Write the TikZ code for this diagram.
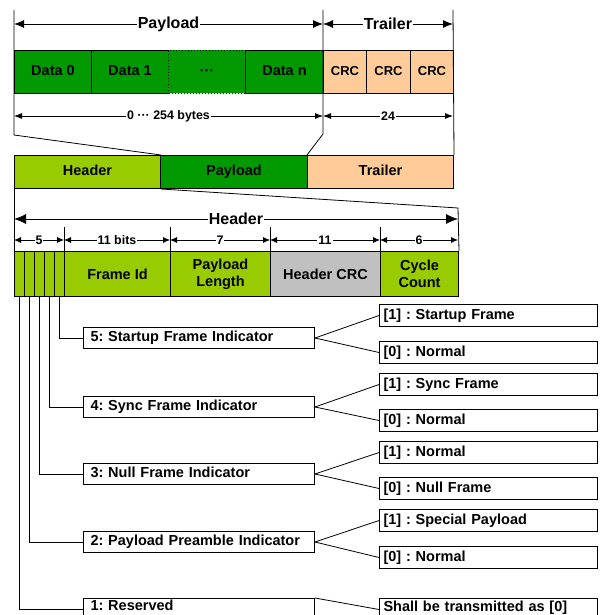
\documentclass[tikz,border=0pt]{standalone}
\usepackage{fontspec}
\setmainfont{Liberation Sans}
\usetikzlibrary{arrows.meta}
\definecolor{lgreen}{HTML}{99CC00}
\definecolor{dgreen}{HTML}{009900}
\definecolor{peach}{HTML}{FFCC99}
\definecolor{crcgray}{HTML}{C0C0C0}
\newcommand{\fsz}[1]{\bfseries\frenchspacing\fontsize{#1}{#1}\selectfont}
\begin{document}
\begin{tikzpicture}[x=1pt,y=-1pt,line width=0.8pt,
  cell/.style={draw,line width=1pt,anchor=north west,inner sep=0pt,font=\fsz{14.5},
    text height=10.5pt,text depth=3pt},
  fcell/.style={draw,line width=1pt,anchor=north west,inner sep=0pt,align=center,
    font=\bfseries\frenchspacing\fontsize{14.5}{17}\selectfont,minimum height=45pt,fill=lgreen},
  labbox/.style={draw,line width=1pt,anchor=north west,inner xsep=7pt,inner ysep=0pt,
    text width=217pt,align=left,minimum height=21pt,font=\fsz{14.5},
    text height=10.5pt,text depth=3pt},
  valbox/.style={draw,line width=1pt,anchor=north west,inner xsep=4pt,inner ysep=0pt,
    text width=210pt,align=left,minimum height=22pt,font=\fsz{14.5},
    text height=10.5pt,text depth=3pt},
  dimbig/.style={{Latex[length=10pt,width=8pt]}-{Latex[length=10pt,width=8pt]}},
  dimmid/.style={{Latex[length=8pt,width=6pt]}-{Latex[length=8pt,width=6pt]}},
  dimsmall/.style={{Latex[length=7pt,width=6pt]}-{Latex[length=7pt,width=6pt]}},
  lbl/.style={fill=white,inner xsep=1pt,inner ysep=0pt,font=\fsz{#1}},
  lbl/.default=12.4]
\useasboundingbox (0,0) rectangle (601,615);

% ---------- top row ----------
\node[cell,fill=dgreen,minimum width=77pt,minimum height=43pt] (d0) at (14,50) {Data 0};
\node[cell,fill=dgreen,minimum width=77pt,minimum height=43pt] (d1) at (91,50) {Data 1};
\draw[dgreen,line width=1.4pt] ([yshift=-1pt]d1.north east) -- ([yshift=1pt]d1.south east);
\node[cell,dotted,fill=dgreen,minimum width=77pt,minimum height=43pt] (dd) at (168,50) {···};
\node[cell,fill=dgreen,minimum width=78pt,minimum height=43pt] (dn) at (245,50) {Data n};
\node[cell,fill=peach,minimum width=43pt,minimum height=43pt,font=\fsz{13}] (c1) at (323,50) {CRC};
\node[cell,fill=peach,minimum width=44pt,minimum height=43pt,font=\fsz{13}] (c2) at (366,50) {CRC};
\node[cell,fill=peach,minimum width=43pt,minimum height=43pt,font=\fsz{13}] (c3) at (410,50) {CRC};

% ---------- frame row ----------
\node[cell,fill=lgreen,minimum width=146pt,minimum height=33pt] (hh) at (14,155) {Header};
\node[cell,fill=dgreen,minimum width=147pt,minimum height=33pt] (hp) at (160,155) {Payload};
\node[cell,fill=peach,minimum width=146pt,minimum height=33pt] (ht) at (307,155) {Trailer};

% top guide lines
\coordinate (t0) at (14,10);
\coordinate (t1) at (323,10);
\coordinate (t2) at (453,10);
\coordinate (k0) at (14,135);
\coordinate (k1) at (323,134);
\draw (t0) -- (k0) -- (hh.north east);
\draw (t1) -- (k1) -- (ht.north west);
\draw (t2) -- (ht.north east);

\coordinate (a0) at (14,24);
\coordinate (a1) at (323,24);
\coordinate (a2) at (453,24);
\draw[dimbig] (a0) -- (a1) node[midway,lbl=16] {Payload};
\draw[dimbig] (a1) -- (a2) node[midway,lbl=16] {Trailer};

\coordinate (e0) at (14,116);
\coordinate (e1) at (323,116);
\coordinate (e2) at (453,116);
\draw[dimmid] (e0) -- (e1) node[midway,lbl] {0 ··· 254 bytes};
\draw[dimmid] (e1) -- (e2) node[midway,lbl] {24};

% ---------- header fields ----------
\node[fcell,minimum width=10pt] (b1) at (14,251) {};
\node[fcell,minimum width=10pt] (b2) at (24,251) {};
\node[fcell,minimum width=10pt] (b3) at (34,251) {};
\node[fcell,minimum width=10pt] (b4) at (44,251) {};
\node[fcell,minimum width=10pt] (b5) at (54,251) {};
\node[fcell,minimum width=106pt] (fid) at (64,251) {Frame Id};
\node[fcell,minimum width=100pt] (plen) at (170,251) {Payload\\Length};
\node[fcell,minimum width=110pt,fill=crcgray] (hcrc) at (270,251) {Header CRC};
\node[fcell,minimum width=78pt] (cyc) at (380,251) {Cycle\\Count};

\coordinate (k2) at (458,208);
\draw (hh.south east) -- (k2) -- (cyc.north east);
\draw (hh.south west) -- (b1.north west);

\coordinate (h0) at (14,219);
\coordinate (h1) at (458,219);
\draw[{Latex[length=12pt,width=10pt]}-{Latex[length=12pt,width=10pt]}] (h0) -- (h1) node[midway,lbl=16] {Header};

\foreach \n in {fid,plen,hcrc,cyc} \draw (\n.north west) -- ++(0,-24);

\coordinate (s0) at (14,240);
\coordinate (s1) at (64,240);
\coordinate (s2) at (170,240);
\coordinate (s3) at (270,240);
\coordinate (s4) at (380,240);
\coordinate (s5) at (458,240);
\draw[dimsmall] (s0) -- (s1) node[midway,lbl] {5};
\draw[dimsmall] (s1) -- (s2) node[midway,lbl] {11 bits};
\draw[dimsmall] (s2) -- (s3) node[midway,lbl] {7};
\draw[dimsmall] (s3) -- (s4) node[midway,lbl] {11};
\draw[dimsmall] (s4) -- (s5) node[midway,lbl] {6};

% ---------- indicator boxes ----------
\node[labbox] (l5) at (83,327) {5: Startup Frame Indicator};
\node[labbox] (l4) at (83,396) {4: Sync Frame Indicator};
\node[labbox] (l3) at (83,463) {3: Null Frame Indicator};
\node[labbox] (l2) at (83,531) {2: Payload Preamble Indicator};
\node[labbox,text depth=7pt] (l1) at (83,598) {1: Reserved};

\node[valbox] (r5a) at (379,304) {[1] : Startup Frame};
\node[valbox] (r5b) at (379,341) {[0] : Normal};
\node[valbox] (r4a) at (379,373) {[1] : Sync Frame};
\node[valbox] (r4b) at (379,409) {[0] : Normal};
\node[valbox] (r3a) at (379,441) {[1] : Normal};
\node[valbox] (r3b) at (379,477) {[0] : Null Frame};
\node[valbox] (r2a) at (379,509) {[1] : Special Payload};
\node[valbox] (r2b) at (379,546) {[0] : Normal};
\node[valbox,text depth=7pt] (r1) at (379,598) {Shall be transmitted as [0]};

\draw (b5.south) |- (l5.west);
\draw (b4.south) |- (l4.west);
\draw (b3.south) |- (l3.west);
\draw (b2.south) |- (l2.west);
\draw (b1.south) |- (l1.west);

\foreach \i in {5,4,3,2} {
  \draw (l\i.east) -- (r\i a.west);
  \draw (l\i.east) -- (r\i b.west);
}
\draw (l1.north east) -- (r1.west);
\end{tikzpicture}
\end{document}
